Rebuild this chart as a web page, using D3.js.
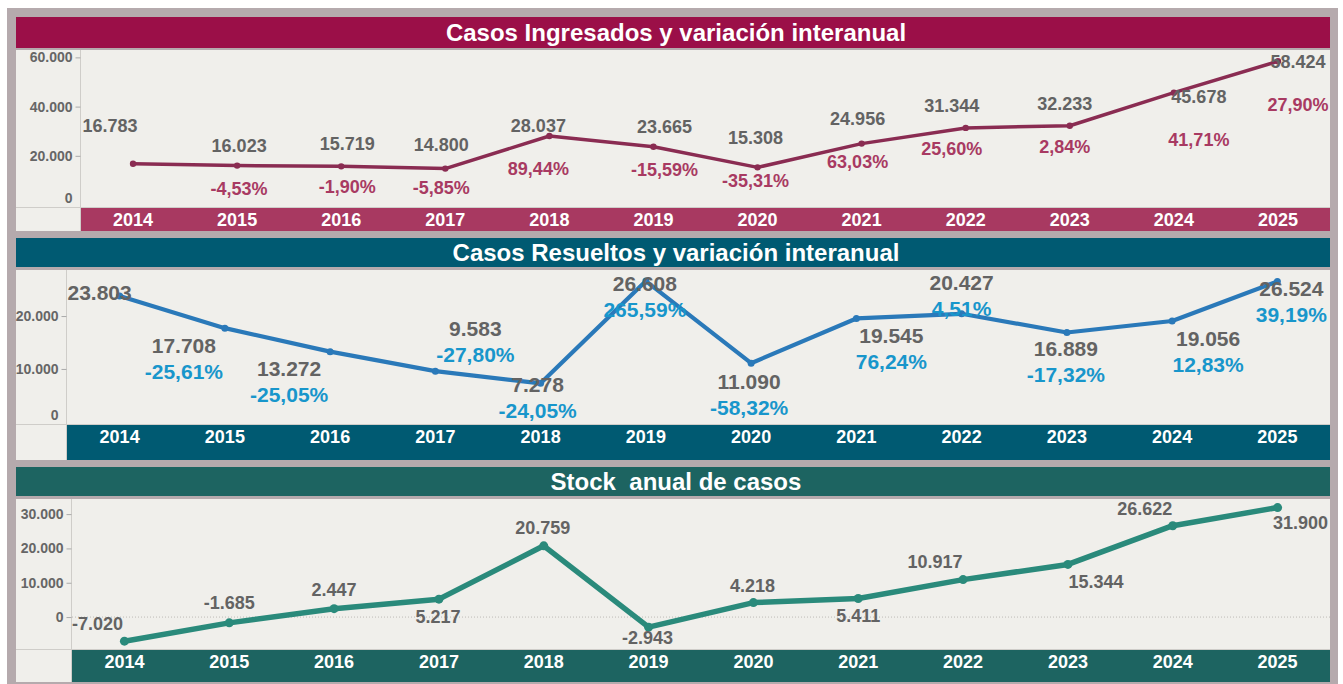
<!DOCTYPE html>
<html><head><meta charset="utf-8">
<script src="https://cdn.jsdelivr.net/npm/d3@7"></script>
<style>
html,body{margin:0;padding:0;background:#fff;}
svg text{font-family:"Liberation Sans",Arial,sans-serif;}
</style></head>
<body>
<svg id="chart" width="1343" height="684"></svg>
<script>
// ---------- DATA ----------
const years = ["2014","2015","2016","2017","2018","2019","2020","2021","2022","2023","2024","2025"];
const ingresados = [16783,16023,15719,14800,28037,23665,15308,24956,31344,32233,45678,58424];
const ingresadosVar = [null,-4.53,-1.90,-5.85,89.44,-15.59,-35.31,63.03,25.60,2.84,41.71,27.90];
const resueltos = [23803,17708,13272,9583,7278,26608,11090,19545,20427,16889,19056,26524];
const resueltosVar = [null,-25.61,-25.05,-27.80,-24.05,265.59,-58.32,76.24,4.51,-17.32,12.83,39.19];
const stock = [-7020,-1685,2447,5217,20759,-2943,4218,5411,10917,15344,26622,31900];
const ingresadosTicks = [0,20000,40000,60000];
const resueltosTicks = [0,10000,20000];
const stockTicks = [0,10000,20000,30000];
const titles = ["Casos Ingresados y variación interanual","Casos Resueltos y variación interanual","Stock  anual de casos"];

// ---------- LABEL PLACEMENT (offsets of value label from its point) ----------
const ingLabelOff = [[-23,-38],[2,-20],[6,-23],[-4,-24],[-11,-11],[11,-20],[-2,-30],[-4,-25],[-14,-22],[-5,-22],[25,4],[20,0]];
const resLabelOff = [[-20,-3],[-41,17],[-41,17],[40,-43],[-3,1],[-1,2],[-2,18],[35,17],[0,-31],[-1,16],[36,17],[14,7]];
const stkLabelOff = [[-27,-18],[0,-20],[0,-19],[-1,17],[-1,-18],[-1,10],[-1,-17],[0,17],[-28,-18],[28,17],[-28,-17],[23,15]];

// ---------- FORMATTERS ----------
const fixMinus = s => s.replace(/\u2212/g, "-");
const fmtNum = v => fixMinus(d3.format(",d")(v)).replace(/,/g, ".");
const fmtPct = v => fixMinus(d3.format(".2f")(v)).replace(".", ",") + "%";

const svg = d3.select("#chart");
const W = 1343, H = 684;
const LEFT = 16, RIGHT = 1330;

// outer grey frame
svg.append("rect").attr("x",0).attr("y",0).attr("width",W).attr("height",H).attr("fill","#ffffff");
svg.append("rect").attr("x",7).attr("y",8).attr("width",1331).attr("height",676).attr("fill","#b5aaad");

const panels = [
  {title:titles[0], values:ingresados, vars:ingresadosVar, ticks:ingresadosTicks, off:ingLabelOff,
   tTop:17, tBot:48, pTop:50, pBot:207, bTop:208, bBot:231, axisX:81,
   domain:[-800,63000], head:"#9b0f48", band:"#a83961", line:"#8a2c52", lw:3.5, r:3.2,
   pctColor:"#a83a62", fs:18, gap:43, yearDy:0, zeroLine:false},
  {title:titles[1], values:resueltos, vars:resueltosVar, ticks:resueltosTicks, off:resLabelOff,
   tTop:238, tBot:267, pTop:270, pBot:424, bTop:424, bBot:460, axisX:67,
   domain:[-400,28700], head:"#005a72", band:"#005a72", line:"#2a79b9", lw:4.2, r:3.5,
   pctColor:"#1896cb", fs:21, gap:26, yearDy:-5, zeroLine:false},
  {title:titles[2], values:stock, vars:null, ticks:stockTicks, off:stkLabelOff,
   tTop:467, tBot:496, pTop:499, pBot:649, bTop:649, bBot:682, axisX:72,
   domain:[-9300,34400], head:"#1d6461", band:"#1d6461", line:"#2a8a7b", lw:5.5, r:4.5,
   pctColor:null, fs:18, gap:0, yearDy:-4, zeroLine:true}
];

panels.forEach(p => {
  const g = svg.append("g");
  // title bar
  g.append("rect").attr("x",LEFT).attr("y",p.tTop).attr("width",RIGHT-LEFT).attr("height",p.tBot-p.tTop).attr("fill",p.head);
  g.append("text").attr("x",676).attr("y",(p.tTop+p.tBot)/2 + 24*0.36)
    .attr("text-anchor","middle").attr("fill","#ffffff").attr("font-weight","bold").attr("font-size",24)
    .style("white-space","pre").text(p.title);
  // plot + band background
  g.append("rect").attr("x",LEFT).attr("y",p.pTop).attr("width",RIGHT-LEFT).attr("height",p.bBot-p.pTop).attr("fill","#f0efeb");
  // year band
  g.append("rect").attr("x",p.axisX).attr("y",p.bTop).attr("width",RIGHT-p.axisX).attr("height",p.bBot-p.bTop).attr("fill",p.band);
  // separators
  g.append("line").attr("x1",LEFT).attr("x2",RIGHT).attr("y1",p.pBot+0.5).attr("y2",p.pBot+0.5).attr("stroke","#cfcdc9").attr("stroke-width",1);
  g.append("line").attr("x1",p.axisX-0.5).attr("x2",p.axisX-0.5).attr("y1",p.pTop).attr("y2",p.bBot).attr("stroke","#cfcdc9").attr("stroke-width",1);

  const x = d3.scaleBand().domain(years).range([p.axisX, RIGHT]);
  const y = d3.scaleLinear().domain(p.domain).range([p.pBot, p.pTop]);
  const cx = d => x(d) + x.bandwidth()/2;

  // y axis ticks
  const axis = d3.axisLeft(y).tickValues(p.ticks).tickSize(5).tickPadding(3).tickFormat(fmtNum);
  const ag = g.append("g").attr("transform",`translate(${p.axisX-0.5},0)`).call(axis);
  ag.select(".domain").remove();
  ag.selectAll(".tick line").attr("stroke","#aaaaaa");
  ag.selectAll(".tick text").attr("fill","#666666").attr("font-size",14).attr("font-weight","bold")
    .attr("font-family","Liberation Sans, Arial, sans-serif");
  // keep bottom tick label inside plot (like original)
  ag.selectAll(".tick").each(function(d){
    const ty = y(d);
    if (ty > p.pBot - 9) {
      d3.select(this).select("text").attr("transform",`translate(0,${(p.pBot-9)-ty})`);
      if (!p.zeroLine) d3.select(this).select("line").remove();
    }
  });

  if (p.zeroLine) {
    g.append("line").attr("x1",p.axisX).attr("x2",RIGHT).attr("y1",y(0)).attr("y2",y(0))
      .attr("stroke","#bdbbb6").attr("stroke-width",1).attr("stroke-dasharray","1,2");
  }

  // year labels
  g.selectAll(".yr").data(years).enter().append("text")
    .attr("x",d=>cx(d)).attr("y",(p.bTop+p.bBot)/2 + p.yearDy + 18*0.36)
    .attr("text-anchor","middle").attr("fill","#ffffff").attr("font-weight","bold").attr("font-size",18)
    .text(d=>d);

  // line
  const line = d3.line().x((v,i)=>cx(years[i])).y(v=>y(v));
  g.append("path").datum(p.values).attr("d",line).attr("fill","none")
    .attr("stroke",p.line).attr("stroke-width",p.lw).attr("stroke-linejoin","round").attr("stroke-linecap","round");
  g.selectAll(".pt").data(p.values).enter().append("circle")
    .attr("cx",(v,i)=>cx(years[i])).attr("cy",v=>y(v)).attr("r",p.r).attr("fill",p.line);

  // value labels
  g.selectAll(".vl").data(p.values).enter().append("text")
    .attr("x",(v,i)=>cx(years[i]) + p.off[i][0])
    .attr("y",(v,i)=>y(v) + p.off[i][1] + p.fs*0.36)
    .attr("text-anchor","middle").attr("fill","#636363").attr("font-weight","bold").attr("font-size",p.fs)
    .text(v=>fmtNum(v));
  // pct labels
  if (p.vars) {
    const items = p.vars.map((v,i)=>({v,i})).filter(o=>o.v!==null);
    g.selectAll(".pl").data(items).enter().append("text")
      .attr("x",o=>cx(years[o.i]) + p.off[o.i][0])
      .attr("y",o=>y(p.values[o.i]) + p.off[o.i][1] + p.gap + p.fs*0.36)
      .attr("text-anchor","middle").attr("fill",p.pctColor).attr("font-weight","bold").attr("font-size",p.fs)
      .text(o=>fmtPct(o.v));
  }
});
</script>
</body></html>
